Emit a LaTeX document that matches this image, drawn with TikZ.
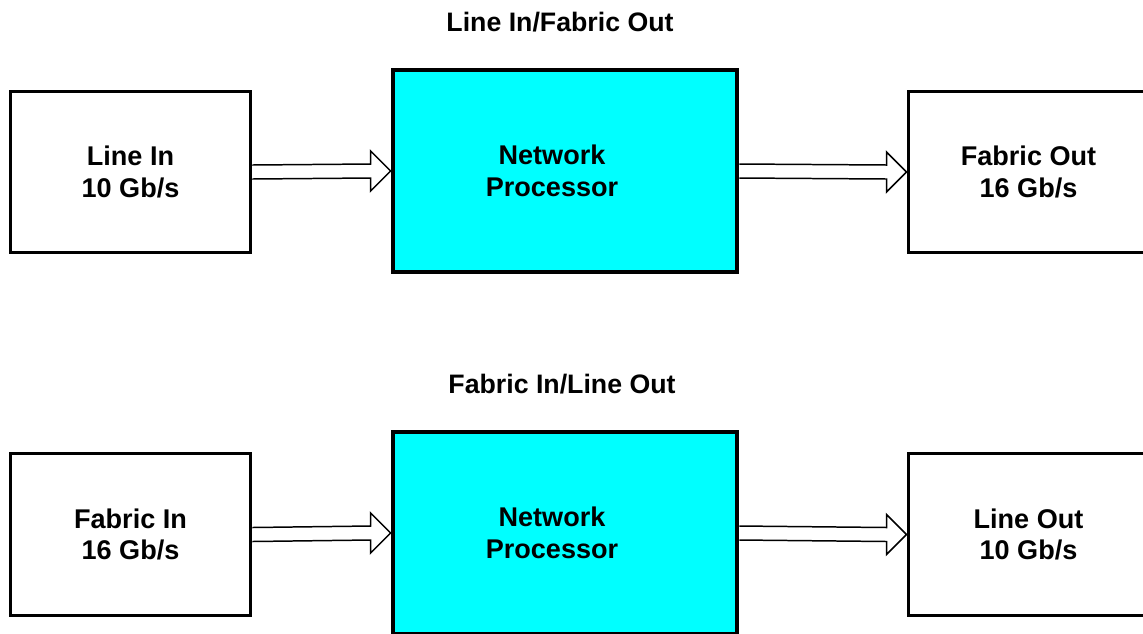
\documentclass[tikz,border=0pt]{standalone}
\usepackage{fontspec}
\setmainfont{Liberation Sans}
\usepackage{xcolor}
\usetikzlibrary{calc}
\definecolor{npcyan}{RGB}{0,255,255}

% hollow block arrow between two named boxes
\newcommand{\flow}[2]{%
  \draw[line width=0.85pt, fill=white]
    ($(#1.east)+(0,-7)$) -- ($(#2.west)+(-20,-7)$) -- ($(#2.west)+(-20,-20)$)
    -- (#2.west) -- ($(#2.west)+(-20,20)$) -- ($(#2.west)+(-20,7)$)
    -- ($(#1.east)+(0,7)$);}

\begin{document}
\begin{tikzpicture}[x=0.02cm, y=-0.02cm,
  boxtext/.style = {align=center, font=\bfseries\fontsize{15.4}{18}\selectfont},
  port/.style = {draw, line width=1.7pt, minimum width=4.82cm, minimum height=3.24cm, boxtext},
  proc/.style = {draw, fill=npcyan, line width=2.8pt, minimum width=6.88cm, minimum height=4.04cm},
  heading/.style = {font=\bfseries\fontsize{15.2}{18}\selectfont}]
   \useasboundingbox (0,0) rectangle (1143,633);
   \clip (0,0) rectangle (1143,633);

   % line side in, fabric side out
   \node[heading] (titleA) at (560,22) {Line In/Fabric Out};
   \node[port] (linein)    at (130.5,172) {Line In\\10 Gb/s};
   \node[proc, label={[boxtext, xshift=-0.26cm]center:{Network\\Processor}}] (npA) at (565,171) {};
   \node[port] (fabricout) at (1028.5,172) {Fabric Out\\16 Gb/s};
   \flow{linein}{npA}
   \flow{npA}{fabricout}

   % fabric side in, line side out
   \node[heading] (titleB) at (562,384) {Fabric In/Line Out};
   \node[port] (fabricin) at (130.5,534.5) {Fabric In\\16 Gb/s};
   \node[proc, label={[boxtext, xshift=-0.26cm]center:{Network\\Processor}}] (npB) at (565,533) {};
   \node[port] (lineout)  at (1028.5,534.5) {Line Out\\10 Gb/s};
   \flow{fabricin}{npB}
   \flow{npB}{lineout}
\end{tikzpicture}
\end{document}
